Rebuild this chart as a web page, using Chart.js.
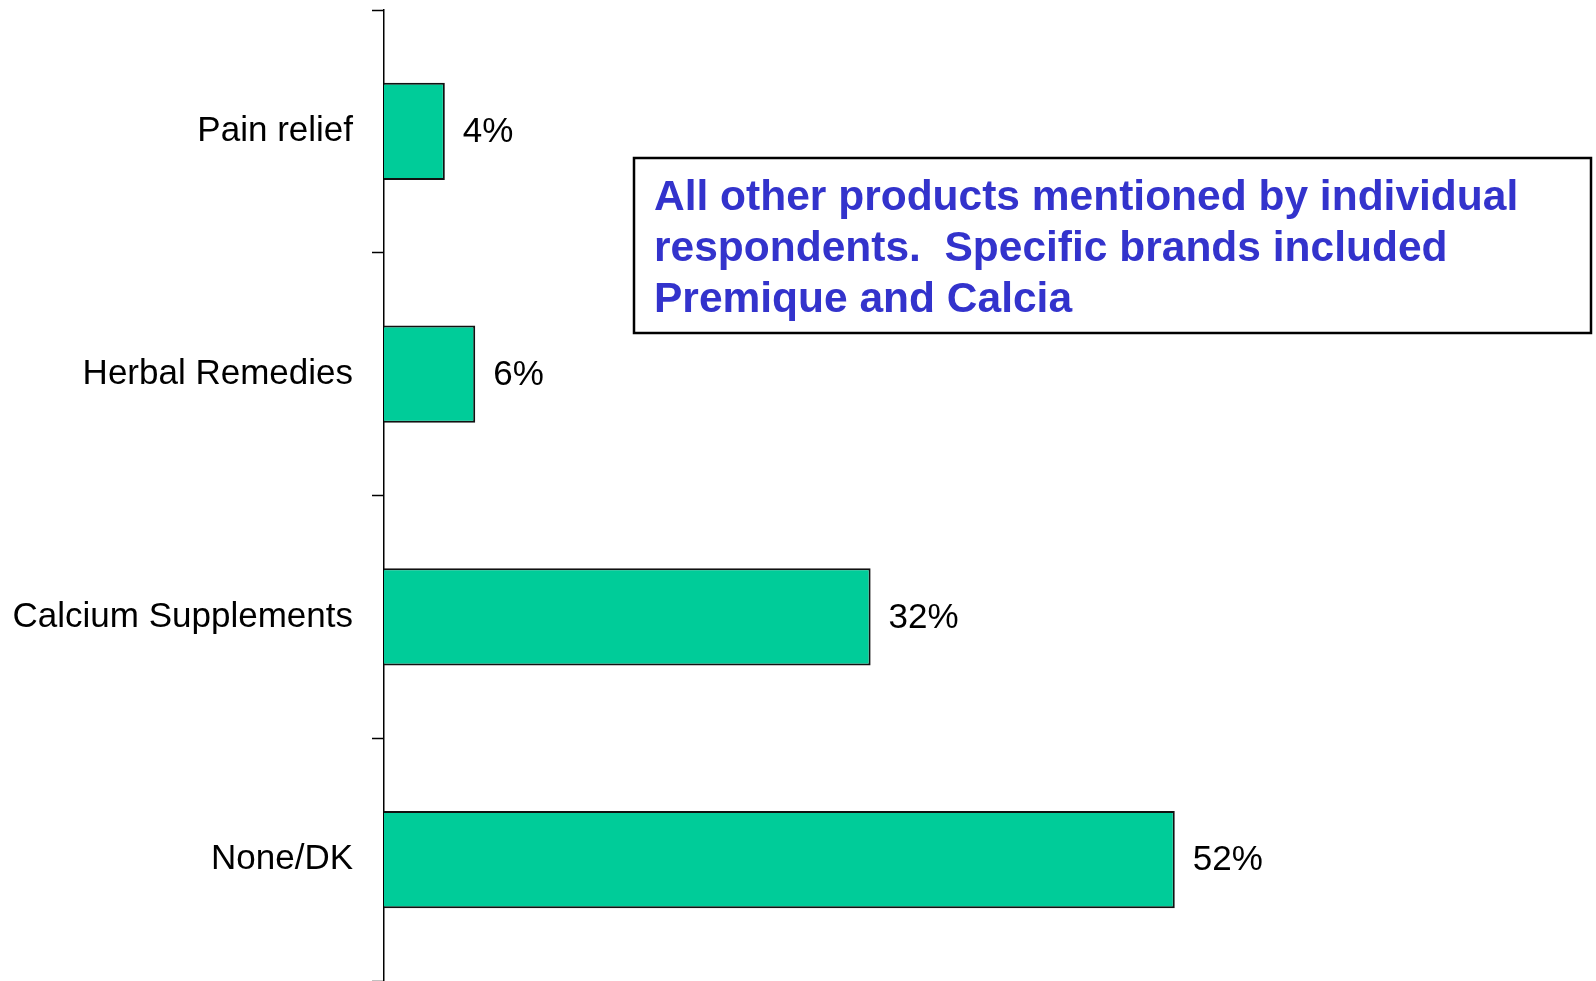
<!DOCTYPE html>
<html>
<head>
<meta charset="utf-8">
<script src="https://cdn.jsdelivr.net/npm/chart.js@4"></script>
<style>
  html, body { margin: 0; padding: 0; background: #fff; }
  #wrap { width: 1596px; height: 981px; position: relative; }
</style>
</head>
<body>
<div id="wrap"><canvas id="chart"></canvas></div>
<script>
// Chart data
const categories = ['Pain relief', 'Herbal Remedies', 'Calcium Supplements', 'None/DK'];
const values = [4, 6, 32, 52];
const noteLines = [
  'All other products mentioned by individual',
  'respondents.  Specific brands included',
  'Premique and Calcia'
];

const FONT = '"Liberation Sans", Arial, sans-serif';

// Draws "NN%" right of each bar
const valueLabels = {
  id: 'valueLabels',
  afterDatasetsDraw(chart) {
    const ctx = chart.ctx;
    const meta = chart.getDatasetMeta(0);
    ctx.save();
    ctx.font = '35px ' + FONT;
    ctx.fillStyle = '#000';
    ctx.textAlign = 'left';
    ctx.textBaseline = 'middle';
    meta.data.forEach((bar, i) => {
      ctx.fillText(values[i] + '%', bar.x + 18, bar.y + 1);
    });
    ctx.restore();
  }
};

// Note box in upper right
const noteBox = {
  id: 'noteBox',
  afterDraw(chart) {
    const ctx = chart.ctx;
    ctx.save();
    ctx.fillStyle = '#fff';
    ctx.fillRect(634, 158, 957, 175);
    ctx.strokeStyle = '#000';
    ctx.lineWidth = 2.5;
    ctx.strokeRect(634, 158, 957, 175);
    ctx.font = 'bold 42.5px ' + FONT;
    ctx.fillStyle = '#3333CC';
    ctx.textAlign = 'left';
    ctx.textBaseline = 'alphabetic';
    noteLines.forEach((line, i) => {
      ctx.fillText(line, 654, 210 + i * 51);
    });
    ctx.restore();
  }
};

new Chart(document.getElementById('chart'), {
  type: 'bar',
  data: {
    labels: categories,
    datasets: [{
      data: values,
      backgroundColor: '#00CC99',
      borderColor: '#111',
      borderWidth: 2,
      barPercentage: 0.4,
      categoryPercentage: 1.0
    }]
  },
  options: {
    indexAxis: 'y',
    responsive: true,
    maintainAspectRatio: false,
    animation: false,
    layout: { padding: { top: 10, bottom: -3, left: 0, right: 0 } },
    plugins: {
      legend: { display: false },
      tooltip: { enabled: false }
    },
    scales: {
      x: {
        display: false,
        min: 0,
        max: 79.7
      },
      y: {
        offset: true,
        grid: {
          offset: true,
          drawOnChartArea: false,
          drawTicks: true,
          tickLength: 12,
          tickColor: '#000',
          tickWidth: 1.5
        },
        border: { color: '#000', width: 1.5 },
        ticks: {
          color: '#000',
          padding: 19,
          font: { family: FONT, size: 35 }
        },
        afterFit(scale) {
          scale.width = 384;
          scale.paddingTop = 0;
          scale.paddingBottom = 0;
        }
      }
    }
  },
  plugins: [valueLabels, noteBox]
});
</script>
</body>
</html>
